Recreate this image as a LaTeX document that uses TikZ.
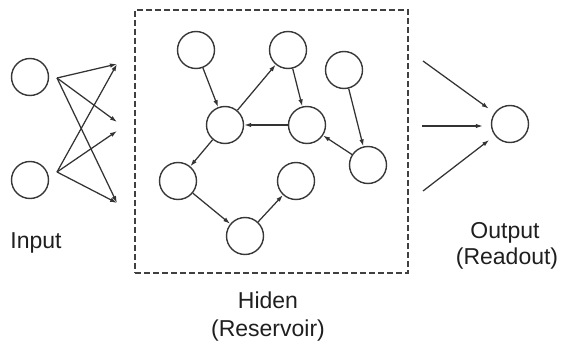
\documentclass[tikz,border=0pt]{standalone}
\usepackage{fontspec}
\setmainfont{Liberation Sans}
\usetikzlibrary{arrows.meta}
\begin{document}
\begin{tikzpicture}[x=1pt,y=-1pt,
  neuron/.style={circle,draw=black!78,line width=1.4pt,minimum size=37pt,inner sep=0pt},
  link/.style={draw=black!80,line width=1.25pt,-{Latex[length=7pt,width=4.5pt]}},
  lbl/.style={font=\fontsize{23}{28}\selectfont,text=black!88,anchor=base,inner sep=0pt},
  frame/.style={draw=black!75,line width=1.4pt,dash pattern=on 6pt off 3pt,inner sep=0pt}]
\useasboundingbox (0,0) rectangle (561,350);

% reservoir frame
\node[frame,minimum width=273pt,minimum height=263pt] (res) at (271.5,141.5) {};

% input layer
\node[neuron] (in1) at (30,77) {};
\node[neuron] (in2) at (30,180) {};
\coordinate (s1) at (57,78);
\coordinate (s2) at (57,172);
\coordinate (t1) at (117,64);
\coordinate (t2) at (117,122);
\coordinate (t3) at (117,131);
\coordinate (t4) at (117,203);
\draw[link] (s1) -- (t1);
\draw[link] (s1) -- (t2);
\draw[link] (s1) -- (t4);
\draw[link] (s2) -- (t1);
\draw[link] (s2) -- (t3);
\draw[link] (s2) -- (t4);

% reservoir neurons
\node[neuron] (a) at (196,50) {};
\node[neuron] (b) at (288,50) {};
\node[neuron] (c) at (344,70) {};
\node[neuron] (d) at (225,125) {};
\node[neuron] (e) at (307,125) {};
\node[neuron] (f) at (368,165) {};
\node[neuron] (g) at (178,181) {};
\node[neuron] (h) at (296,181) {};
\node[neuron] (i) at (245,236) {};
\draw[link] (a) -- (d);
\draw[link] (d) -- (b);
\draw[link] (b) -- (e);
\draw[link] (e) -- (d);
\draw[link] (c) -- (f);
\draw[link] (f) -- (e);
\draw[link] (d) -- (g);
\draw[link] (g) -- (i);
\draw[link] (i) -- (h);

% readout
\node[neuron] (out) at (510,124) {};
\coordinate (r1) at (423,61);
\coordinate (r2) at (422,126);
\coordinate (r3) at (423,191);
\draw[link,shorten >=7pt] (r1) -- (out);
\draw[link,shorten >=8pt] (r2) -- (out.west |- r2);
\draw[link,shorten >=7pt] (r3) -- (out);

% labels
\node[lbl] (linput) at (36,248) {Input};
\node[lbl] (lout1) at (505,238) {Output};
\node[lbl] (lout2) at (507,264) {(Readout)};
\node[lbl] (lhid1) at (268,308) {Hiden};
\node[lbl] (lhid2) at (268,336) {(Reservoir)};
\end{tikzpicture}
\end{document}
